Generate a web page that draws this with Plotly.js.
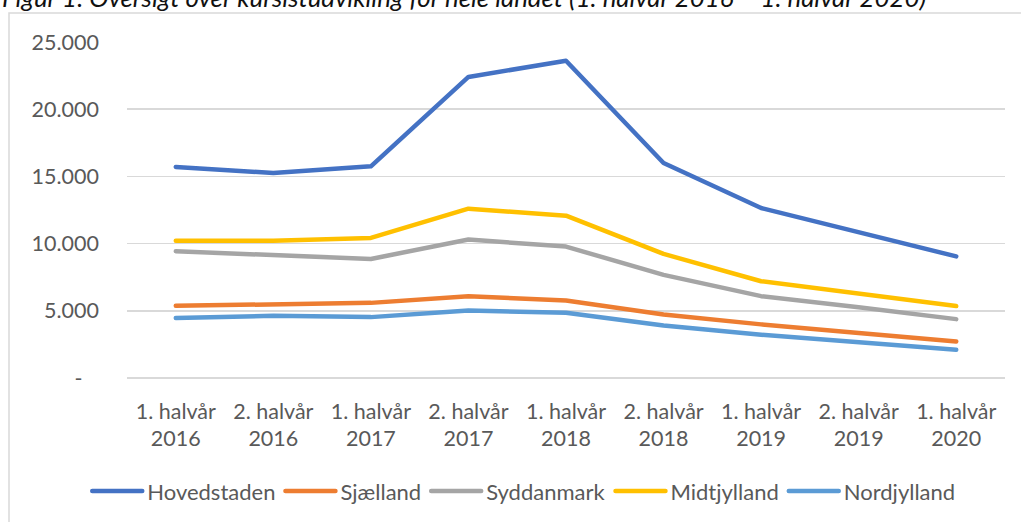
<!DOCTYPE html>
<html>
<head>
<meta charset="utf-8">
<script src="https://cdn.plot.ly/plotly-3.0.1.min.js"></script>
<style>
  html, body { margin: 0; padding: 0; background: #fff; }
  #chart { width: 1021px; height: 522px; }
  .scatterlayer path.js-line, .legend path.js-line { stroke-linecap: round; stroke-linejoin: round; }
</style>
</head>
<body>
<div id="chart"></div>
<script>
// ---- data ----
const categories = [
  "1. halvår<br>2016", "2. halvår<br>2016", "1. halvår<br>2017", "2. halvår<br>2017",
  "1. halvår<br>2018", "2. halvår<br>2018", "1. halvår<br>2019", "2. halvår<br>2019", "1. halvår<br>2020"
];
const seriesNames = ["Hovedstaden", "Sjælland", "Syddanmark", "Midtjylland", "Nordjylland"];
const hovedstaden = [15700, 15250, 15750, 22400, 23600, 16000, 12650, 10850, 9050];
const sjaelland   = [5370, 5440, 5590, 6090, 5770, 4730, 3990, 3340, 2720];
const syddanmark  = [9430, 9110, 8860, 10300, 9780, 7670, 6090, 5270, 4380];
const midtjylland = [10220, 10220, 10420, 12600, 12080, 9230, 7200, 6260, 5350];
const nordjylland = [4460, 4630, 4530, 5030, 4850, 3910, 3220, 2670, 2100];
const yTickVals = [0, 5000, 10000, 15000, 20000, 25000];
const yTickText = ["-\u00a0\u00a0\u00a0", "5.000", "10.000", "15.000", "20.000", "25.000"];
const titleText = "Figur 1: Oversigt over kursistudvikling for hele landet (1. halvår 2016 – 1. halvår 2020)";

const colors = ["#4472C4", "#ED7D31", "#A5A5A5", "#FFC000", "#5B9BD5"];
const allSeries = [hovedstaden, sjaelland, syddanmark, midtjylland, nordjylland];

const FONT = "Lato, 'Open Sans', sans-serif";
const TXT = "#595959";

const traces = allSeries.map((vals, i) => ({
  type: "scatter",
  mode: "lines",
  name: seriesNames[i],
  x: categories,
  y: vals,
  line: { color: colors[i], width: 4.5 },
  hoverinfo: "skip"
}));

const layout = {
  width: 1021,
  height: 522,
  margin: { l: 127, r: 16, t: 42, b: 144, pad: 0 },
  paper_bgcolor: "#ffffff",
  plot_bgcolor: "#ffffff",
  font: { family: FONT, size: 21, color: TXT },
  showlegend: true,
  legend: {
    orientation: "h",
    xref: "container", yref: "container",
    x: 0.513, xanchor: "center",
    y: 0.059, yanchor: "middle",
    font: { family: FONT, size: 22, color: TXT },
    itemwidth: 50,
    bgcolor: "rgba(0,0,0,0)"
  },
  xaxis: {
    type: "category",
    categoryorder: "array",
    categoryarray: categories,
    range: [-0.5, 8.5],
    showgrid: false,
    zeroline: false,
    showline: false,
    ticks: "",
    ticklabelstandoff: 18,
    tickfont: { family: FONT, size: 21.5, color: TXT },
    fixedrange: true
  },
  yaxis: {
    range: [0, 25000],
    tickmode: "array",
    tickvals: yTickVals,
    ticktext: yTickText,
    showgrid: true,
    gridcolor: "#D9D9D9",
    gridwidth: 1.5,
    zeroline: true,
    zerolinecolor: "#D9D9D9",
    zerolinewidth: 1.5,
    showline: false,
    ticks: "",
    ticklabelstandoff: 27,
    tickfont: { family: FONT, size: 21.5, color: TXT },
    fixedrange: true
  },
  shapes: [{
    type: "rect",
    xref: "paper", yref: "paper",
    x0: -0.1344, x1: 1.1, y0: -0.6, y1: 1.0863,
    line: { color: "#D9D9D9", width: 1.5 },
    fillcolor: "rgba(0,0,0,0)",
    layer: "below"
  }],
  annotations: [{
    text: "<i>" + titleText + "</i>",
    xref: "paper", yref: "paper",
    x: -0.1446, xanchor: "left",
    y: 1.083, yanchor: "bottom",
    showarrow: false,
    font: { family: FONT, size: 25.8, color: "#111111" }
  }]
};

Plotly.newPlot("chart", traces, layout, { staticPlot: true, displayModeBar: false });
</script>
</body>
</html>
